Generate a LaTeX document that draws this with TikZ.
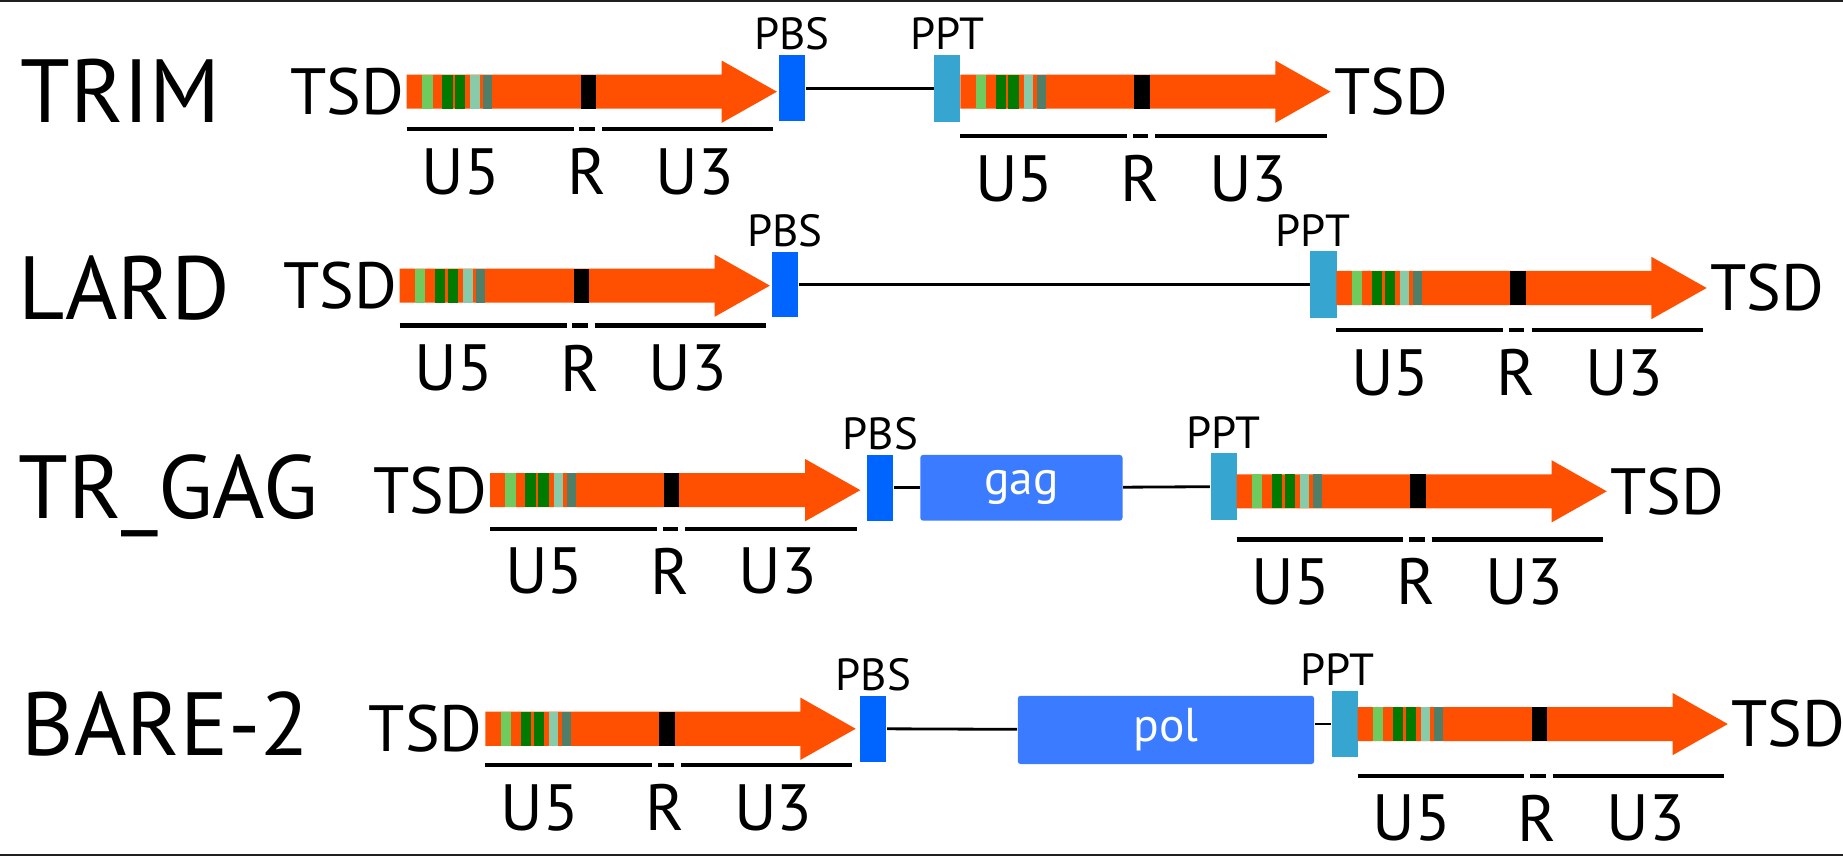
\documentclass[tikz,border=0pt]{standalone}
\usepackage{fontspec}
\setmainfont{PT Sans}
\usetikzlibrary{positioning}

\definecolor{ltrred}{HTML}{FF4F00}
\definecolor{pbsblue}{HTML}{0064FF}
\definecolor{pptblue}{HTML}{36A6D0}
\definecolor{orfblue}{HTML}{3B7BFF}
\definecolor{lgreen}{HTML}{70CB5E}
\definecolor{dgreen}{HTML}{007B00}
\definecolor{lteal}{HTML}{88CBAA}
\definecolor{gteal}{HTML}{4F7F69}

% LTR: #1 name, #2 x of start, #3 y of bar, #4 y of the U5/R/U3 lines
\newcommand{\ltr}[4]{
  \begin{scope}[shift={(#2,#3)}]
    \fill[ltrred] (0,-14.5) -- (268,-14.5) -- (268,-26.5) -- (315,0) -- (268,26.5) -- (268,14.5) -- (0,14.5) -- cycle;
    \fill[lgreen] (13,-14.5) rectangle (22,14.5);
    \fill[dgreen] (30,-14.5) rectangle (39,14.5);
    \fill[dgreen] (41,-14.5) rectangle (50,14.5);
    \fill[lteal] (54,-14.5) rectangle (62,14.5);
    \fill[gteal] (65,-14.5) rectangle (73,14.5);
    \fill (148,-14.5) rectangle (161,14.5);
    \coordinate (#1s) at (0,0);
    \coordinate (#1e) at (315,0);
  \end{scope}
  \begin{scope}[shift={(#2,#4)}]
    \draw[uline] (0,0) -- (142,0);
    \draw[uline] (147,0) -- (160,0);
    \draw[uline] (166,0) -- (312,0);
    \node[ltrtxt] (#1u5) at (46,36) {U5};
    \node[ltrtxt] (#1r) at (153,36) {R};
    \node[ltrtxt] (#1u3) at (245,36) {U3};
  \end{scope}
}

\begin{document}
\begin{tikzpicture}[x=0.011754cm, y=-0.011754cm,
    rowname/.style={anchor=base west, inner sep=0, font=\fontsize{25.5}{26}\selectfont},
    tsd/.style={inner sep=0, font=\fontsize{18.6}{19}\selectfont},
    ltrtxt/.style={inner sep=0, font=\fontsize{18.6}{19}\selectfont},
    tag/.style={inner sep=0, font=\fontsize{12.8}{13}\selectfont},
    pbs/.style={fill=pbsblue, minimum width=7.4pt, minimum height=18.7pt, inner sep=0},
    ppt/.style={fill=pptblue, minimum width=7.4pt, minimum height=19pt, inner sep=0},
    orf/.style={fill=orfblue, text=white, inner sep=0, rounded corners=0.8pt, font=\fontsize{13.5}{14}\selectfont},
    link/.style={line width=0.8pt},
    uline/.style={line width=1.2pt}]
  \useasboundingbox (0,0) rectangle (1568,729);
  \draw[line width=0.6pt, black!88] (0,0.9) -- (1568,0.9);
  \draw[line width=0.6pt, black!88] (0,727.6) -- (1568,727.6);

  % TRIM
  \node[rowname] (trim) at (17,104) {TRIM};
  \ltr{trimA}{346}{78}{110}
  \node[pbs] (trimpbs) at (674,75) {};
  \node[tag, above=1pt of trimpbs] (trimpbst) {PBS};
  \node[ppt] (trimppt) at (806,75) {};
  \node[tag, above=1pt of trimppt] (trimpptt) {PPT};
  \draw[link] (trimpbs) -- (trimppt);
  \ltr{trimB}{817}{78}{116}
  \node[tsd, left=0.6pt of trimAs] (trimtsdA) {TSD};
  \node[tsd, right=0.8pt of trimBe] (trimtsdB) {TSD};

  % LARD
  \node[rowname] (lard) at (15,272) {LARD};
  \ltr{lardA}{340}{243}{277}
  \node[pbs] (lardpbs) at (668,242) {};
  \node[tag, above=1pt of lardpbs] (lardpbst) {PBS};
  \node[ppt] (lardppt) at (1126,242) {};
  \node[tag, above=1pt of lardppt, xshift=-3pt] (lardpptt) {PPT};
  \draw[link] (lardpbs) -- (lardppt);
  \ltr{lardB}{1137}{245}{281}
  \node[tsd, left=0.6pt of lardAs] (lardtsdA) {TSD};
  \node[tsd, right=0.8pt of lardBe] (lardtsdB) {TSD};

  % TR_GAG
  \node[rowname] (trgag) at (15,441) {TR\_GAG};
  \ltr{trgagA}{417}{417}{450}
  \node[pbs] (trgagpbs) at (749,415) {};
  \node[tag, above=1pt of trgagpbs] (trgagpbst) {PBS};
  \node[orf, minimum width=57.5pt, minimum height=18.7pt] (trgaggag) at (869,415) {gag};
  \node[ppt] (trgagppt) at (1041,414) {};
  \node[tag, above=1pt of trgagppt] (trgagpptt) {PPT};
  \draw[link] (trgagpbs) -- (trgaggag);
  \draw[link] (trgaggag) -- (trgagppt);
  \ltr{trgagB}{1052}{418}{459}
  \node[tsd, left=0.6pt of trgagAs] (trgagtsdA) {TSD};
  \node[tsd, right=0.8pt of trgagBe] (trgagtsdB) {TSD};

  % BARE-2
  \node[rowname] (bare) at (18,643) {BARE-2};
  \ltr{bareA}{413}{620}{651}
  \node[pbs] (barepbs) at (743,620) {};
  \node[tag, above=1pt of barepbs] (barepbst) {PBS};
  \node[orf, minimum width=84.3pt, minimum height=19.4pt] (barepol) at (992,621) {pol};
  \node[ppt] (bareppt) at (1144,616) {};
  \node[tag, above=1pt of bareppt, xshift=-2pt] (barepptt) {PPT};
  \draw[link] (barepbs) -- (barepol);
  \draw[link] (barepol.east |- bareppt) -- (bareppt);
  \ltr{bareB}{1155}{616}{660}
  \node[tsd, left=0.6pt of bareAs] (baretsdA) {TSD};
  \node[tsd, right=0.8pt of bareBe] (baretsdB) {TSD};
\end{tikzpicture}
\end{document}
